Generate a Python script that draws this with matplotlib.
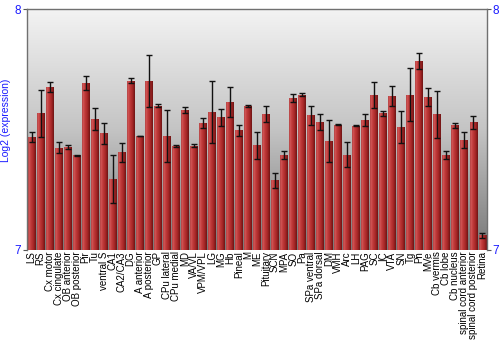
import numpy as np
import matplotlib
matplotlib.use("Agg")
import matplotlib.pyplot as plt
from matplotlib.colors import LinearSegmentedColormap

categories = ["LS", "RS", "Cx motor", "Cx cingulate", "OB anterior", "OB posterior", "Pir", "Tu",
              "ventral S", "CA1", "CA2/CA3", "DG", "A anterior", "A posterior", "GP", "CPu lateral",
              "CPu medial", "MD", "VA/VL", "VPM/VPL", "LG", "MG", "Hb", "Pineal", "M", "ME",
              "Pituitary", "SCN", "MPA", "SO", "Pa", "SPa ventral", "SPa dorsal", "DM", "VMH", "Arc",
              "LH", "PAG", "SC", "IC", "VTA", "SN", "Tg", "Pn", "MVe", "Cb vermis", "Cb lobe",
              "Cb nucleus", "spinal cord anterior", "spinal cord posterior", "Retina"]
values = [7.470, 7.567, 7.675, 7.425, 7.429, 7.394, 7.692, 7.544, 7.484, 7.295, 7.405, 7.703,
          7.473, 7.701, 7.598, 7.473, 7.433, 7.580, 7.433, 7.526, 7.573, 7.551, 7.614, 7.497,
          7.598, 7.434, 7.564, 7.290, 7.394, 7.631, 7.645, 7.559, 7.530, 7.452, 7.519, 7.396,
          7.516, 7.539, 7.645, 7.568, 7.639, 7.512, 7.645, 7.784, 7.635, 7.563, 7.394, 7.517,
          7.455, 7.530, 7.061]
errors = [0.020, 0.098, 0.021, 0.024, 0.008, 0.002, 0.030, 0.047, 0.043, 0.100, 0.039, 0.010,
          0.002, 0.107, 0.006, 0.108, 0.004, 0.012, 0.006, 0.021, 0.130, 0.036, 0.062, 0.023,
          0.003, 0.055, 0.033, 0.031, 0.017, 0.017, 0.006, 0.039, 0.033, 0.087, 0.002, 0.053,
          0.002, 0.026, 0.054, 0.010, 0.042, 0.066, 0.111, 0.032, 0.036, 0.098, 0.018, 0.010,
          0.033, 0.028, 0.011]
y_ticks = [7, 8]
y_label = "Log2 (expression)"

plt.rcParams['font.family'] = ['Liberation Sans', 'DejaVu Sans']

fig = plt.figure(figsize=(5, 3.5), dpi=100)
ax = fig.add_axes([27/500, 1-250/350, 460/500, 241/350])

n = len(categories)
x = np.arange(n)
ymin, ymax = 7, 8
ax.set_xlim(-0.5, n - 0.5)
ax.set_ylim(ymin, ymax)

# background gradient: light at top, gray at bottom
bg = np.linspace(0, 1, 256).reshape(-1, 1)
bg_cmap = LinearSegmentedColormap.from_list("bg", ["#f3f3f3", "#c4c4c4", "#787878"])
ax.imshow(bg, cmap=bg_cmap, aspect="auto", extent=(-0.5, n - 0.5, ymin, ymax),
          origin="upper", zorder=0, interpolation="bicubic")

bar_cmap = LinearSegmentedColormap.from_list(
    "bar", [(0, "#a83a3a"), (0.12, "#d35a5a"), (0.35, "#c23c3c"), (0.7, "#a52626"), (1, "#6e1414")])
grad = np.linspace(0, 1, 64).reshape(1, -1)
width = 0.88
bars = ax.bar(x, np.array(values) - ymin, width=width, bottom=ymin, color="none",
              edgecolor="none", zorder=2)
for b in bars:
    x0, y0 = b.get_x(), b.get_y()
    w, h = b.get_width(), b.get_height()
    im = ax.imshow(grad, cmap=bar_cmap, aspect="auto", extent=(x0, x0 + w, y0, y0 + h),
                   zorder=2, interpolation="bilinear")
    im.set_clip_path(b)

ax.errorbar(x, values, yerr=errors, fmt="none", ecolor="#111111", elinewidth=1,
            capsize=2, capthick=1, zorder=3)

ax.set_xticks(x)
ax.set_xticklabels(categories, rotation=90, fontsize=7)
ax.tick_params(axis="x", length=0, pad=1)

ax.set_yticks(y_ticks)
ax.set_yticklabels([str(t) for t in y_ticks])
ax.tick_params(axis="y", which="both", left=True, right=True, labelleft=True, labelright=True,
               labelsize=8.5, labelcolor="#1a1aff", color="#555555", length=3, pad=1)
ax.set_ylabel(y_label, color="#1a1aff", fontsize=7.5)
ax.yaxis.set_label_coords(-0.035, 0.54)

for s in ["left", "right", "top"]:
    ax.spines[s].set_color("#707070")
    ax.spines[s].set_linewidth(1)
ax.spines["bottom"].set_visible(False)

fig.savefig("out.png", dpi=100)
